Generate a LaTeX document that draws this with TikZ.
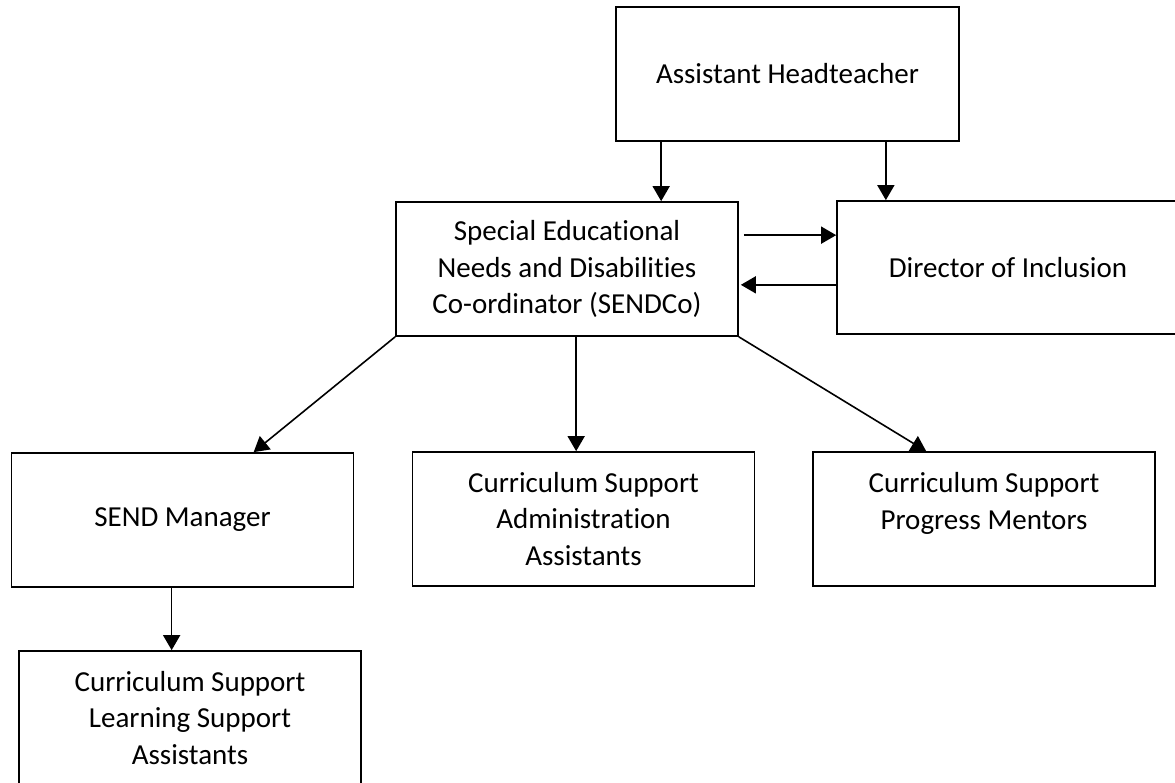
\documentclass[tikz,border=0pt]{standalone}
\usepackage{fontspec}
\setmainfont{Carlito}[Ligatures=NoCommon]
\usetikzlibrary{arrows.meta}
\begin{document}
\begin{tikzpicture}[x=1pt,y=-1pt,
  box/.style={draw=black,line width=1.7pt,minimum width=342pt,minimum height=134pt,
    inner sep=0pt,align=center,font=\fontsize{29}{36.5}\selectfont},
  arr/.style={line width=1.6pt,-{Triangle[length=15pt,width=17pt]}}]
\useasboundingbox (0,0) rectangle (1175,783);
\node[box,minimum width=343pt] (ah) at (787.5,74) {Assistant Headteacher};
\node[box] (sendco) at (567,269) {Special Educational\\Needs and Disabilities\\Co-ordinator (SENDCo)};
\node[box,minimum height=133pt] (doi) at (1008,267.5) {Director of Inclusion};
\node[box] (sm) at (182.5,520) {SEND Manager};
\node[box] (admin) at (583.5,519) {Curriculum Support\\Administration\\Assistants};
\node[box] (pm) at (984,519) {Curriculum Support\\Progress Mentors\\\mbox{}};
\node[box] (lsa) at (190,718) {Curriculum Support\\Learning Support\\Assistants};
% connectors
\coordinate (a1) at ([xshift=46pt]ah.south west);
\coordinate (a2) at ([xshift=-74pt]ah.south east);
\coordinate (b1) at ([xshift=5pt,yshift=-34pt]sendco.north east);
\coordinate (b2) at ([xshift=2pt,yshift=52pt]sendco.south east);
\coordinate (c1) at ([xshift=181pt]sendco.south west);
\coordinate (d1) at ([xshift=161pt]sm.south west);
\draw[arr] (a1) -- (a1 |- sendco.north);
\draw[arr] (a2) -- (a2 |- doi.north);
\draw[arr] (b1) -- (b1 -| doi.west);
\draw[arr] (b2 -| doi.west) -- (b2);
\draw[arr] (sendco.south west) -- ([xshift=243pt]sm.north west);
\draw[arr] (c1) -- (c1 |- admin.north);
\draw[arr] (sendco.south east) -- ([xshift=114pt]pm.north west);
\draw[arr] (d1) -- (d1 |- lsa.north);
\end{tikzpicture}
\end{document}
